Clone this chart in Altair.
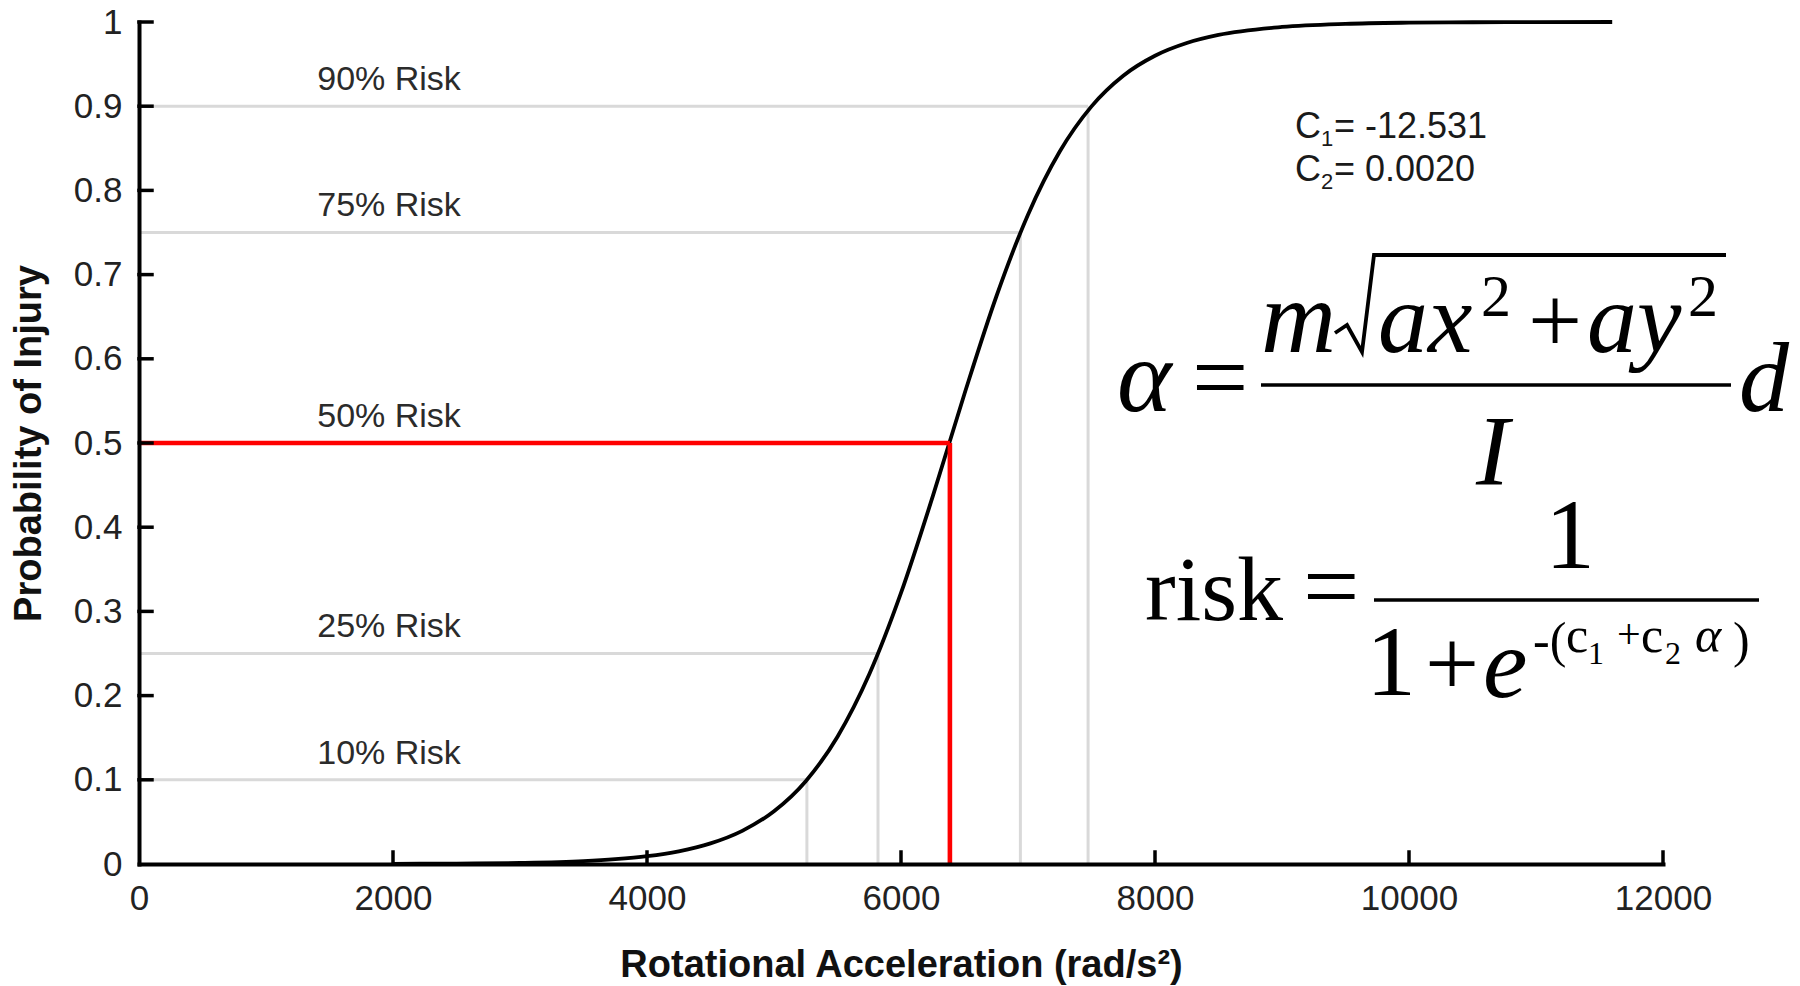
import altair as alt
import pandas as pd

# ---------------- values ----------------
curve_x = [2000, 2500, 3000, 3500, 3750, 4000, 4250, 4500, 4750, 5000,
           5250, 5500, 5750, 6000, 6250, 6500, 6750, 7000, 7250, 7500,
           7750, 8000, 8250, 8500, 9000, 9500, 10000, 10500, 11000, 11600]
curve_y = [0.0002, 0.0005, 0.0013, 0.0035, 0.0058, 0.0093, 0.0151, 0.0245, 0.0394, 0.0627,
           0.0984, 0.1512, 0.2253, 0.3219, 0.4366, 0.5585, 0.6737, 0.7712, 0.8462, 0.8998,
           0.9362, 0.9599, 0.9750, 0.9846, 0.9941, 0.9978, 0.9992, 0.9997, 0.9999, 1.0]

risk_levels = [0.10, 0.25, 0.50, 0.75, 0.90]
risk_x = [5259, 5819, 6385, 6940, 7473]
risk_labels = ["10% Risk", "25% Risk", "50% Risk", "75% Risk", "90% Risk"]

marked_x = [6385]
marked_y = [0.5]

x_tick_values = [0, 2000, 4000, 6000, 8000, 10000, 12000]
y_tick_values = [0, 0.1, 0.2, 0.3, 0.4, 0.5, 0.6, 0.7, 0.8, 0.9, 1.0]

x_title = "Rotational Acceleration (rad/s\u00b2)"
y_title = "Probability of Injury"
c1_value = "= -12.531"
c2_value = "= 0.0020"

# ---------------- layout ----------------
W, H = 1524, 842          # plot area
X0, Y0 = 139, 22          # page pixel of plot's top-left corner
XMAX = 12000


def fx(px):
    return (px - X0) * XMAX / W


def fy(py):
    return (Y0 + H - py) / H


one = pd.DataFrame({"k": [0]})

x_scale = alt.Scale(domain=[0, XMAX], nice=False, zero=False)
y_scale = alt.Scale(domain=[0, 1], nice=False, zero=False)

common_axis = dict(
    domainColor="black", domainWidth=4, domainCap="square",
    ticks=False, tickSize=0, grid=False,
    labelFont="Liberation Sans", labelFontSize=35, labelColor="#222222",
    labelOverlap=False, labelFlush=False,
    titleFont="Liberation Sans", titleFontSize=38, titleFontWeight="bold",
    titleColor="#111111", zindex=1,
)
x_axis = alt.Axis(values=x_tick_values, format="d", title=x_title,
                  labelPadding=17, titleY=112, titleBaseline="alphabetic",
                  **common_axis)
y_axis = alt.Axis(values=y_tick_values, format=".1~f", title=y_title,
                  labelPadding=17, labelBaseline="middle",
                  titleX=-99, titleY=H / 2, titleAngle=270,
                  titleAlign="center", titleBaseline="alphabetic",
                  **common_axis)

# ---------------- gray guide lines (first layer carries the axes) ----------------
guides = pd.DataFrame({"level": risk_levels, "gx": risk_x,
                       "zero": [0] * len(risk_levels)})
guide_h = alt.Chart(guides).mark_rule(color="#d9d9d9", strokeWidth=3).encode(
    x=alt.X("zero:Q", scale=x_scale, axis=x_axis),
    x2="gx:Q",
    y=alt.Y("level:Q", scale=y_scale, axis=y_axis),
)
guide_v = alt.Chart(guides).mark_rule(color="#d9d9d9", strokeWidth=3).encode(
    x="gx:Q", y="zero:Q", y2="level:Q",
)

# ---------------- risk curve ----------------
curve = alt.Chart(pd.DataFrame({"x": curve_x, "y": curve_y})).mark_line(
    color="black", strokeWidth=3.8, interpolate="monotone"
).encode(x="x:Q", y="y:Q")

# ---------------- red marker lines ----------------
mark_df = pd.DataFrame({"mx": marked_x, "my": marked_y, "zero": [0]})
red_h = alt.Chart(mark_df).mark_rule(color="#ff0000", strokeWidth=4.6).encode(
    x="zero:Q", x2="mx:Q", y="my:Q")
red_v = alt.Chart(mark_df).mark_rule(color="#ff0000", strokeWidth=4.6).encode(
    x="mx:Q", y="zero:Q", y2="my:Q")

# ---------------- inward axis ticks ----------------
xt = pd.DataFrame({"t": x_tick_values[1:]})
x_ticks = alt.Chart(xt).mark_rule(color="black", strokeWidth=3.5, strokeCap="square").encode(
    x="t:Q", y=alt.datum(0), y2=alt.datum(12 / H))
yt = pd.DataFrame({"t": y_tick_values[1:]})
y_ticks = alt.Chart(yt).mark_rule(color="black", strokeWidth=3.5, strokeCap="square").encode(
    y="t:Q", x=alt.datum(0), x2=alt.datum(13 * XMAX / W))

# ---------------- risk labels ----------------
risk_df = pd.DataFrame({"label": risk_labels,
                        "ly": [lv + 0.031 for lv in risk_levels],
                        "lx": [1969] * len(risk_labels)})
risk_text = alt.Chart(risk_df).mark_text(
    font="Liberation Sans", fontSize=34, color="#2b2b2b",
    align="center", baseline="middle"
).encode(x="lx:Q", y="ly:Q", text="label:N")


def label(text, px, py, size, font="Liberation Serif", style="normal",
          color="black", align="left"):
    return alt.Chart(one).mark_text(
        text=text, font=font, fontSize=size, fontStyle=style, color=color,
        align=align, baseline="alphabetic"
    ).encode(x=alt.datum(fx(px)), y=alt.datum(fy(py)))


def hbar(px1, px2, py, width=3.5):
    return alt.Chart(one).mark_rule(color="black", strokeWidth=width).encode(
        x=alt.datum(fx(px1)), x2=alt.datum(fx(px2)), y=alt.datum(fy(py)))


texts = []
sans = "Liberation Sans"
texts += [
    label("C", 1295, 138, 36, font=sans, color="#1a1a1a"),
    label("1", 1321, 146, 22, font=sans, color="#1a1a1a"),
    label(c1_value, 1334, 138, 36, font=sans, color="#1a1a1a"),
    label("C", 1295, 181, 36, font=sans, color="#1a1a1a"),
    label("2", 1321, 189, 22, font=sans, color="#1a1a1a"),
    label(c2_value, 1334, 181, 36, font=sans, color="#1a1a1a"),
]
# alpha equation
texts += [
    label("\u03b1", 1117, 411, 104, style="italic"),
    label("=", 1192, 411, 100),
    label("m", 1261, 352, 104, style="italic"),
    label("ax", 1378, 352, 100, style="italic"),
    label("2", 1481, 316, 60),
    label("+", 1528, 352, 96),
    label("ay", 1587, 352, 100, style="italic"),
    label("2", 1688, 316, 60),
    label("d", 1739, 411, 100, style="italic"),
    label("I", 1476, 484, 100, style="italic"),
    hbar(1261, 1731, 385),
]
rad = pd.DataFrame({
    "rx": [fx(v) for v in [1335, 1347, 1362, 1374, 1726]],
    "ry": [fy(v) for v in [333, 325, 352, 255, 255]],
    "o": [0, 1, 2, 3, 4],
})
radical = alt.Chart(rad).mark_line(color="black", strokeWidth=3.8, strokeJoin="miter").encode(
    x="rx:Q", y="ry:Q", order="o:Q")
texts.append(radical)
# risk equation
texts += [
    label("risk", 1145, 620, 92),
    label("=", 1303, 620, 100),
    label("1", 1545, 568, 100),
    hbar(1374, 1759, 600),
    label("1", 1366, 695, 100),
    label("+", 1425, 695, 96),
    label("e", 1483, 697, 100, style="italic"),
    label("-(", 1533, 657, 50),
    label("c", 1566, 652, 50),
    label("1", 1588, 664, 32),
    label("+", 1617, 648, 42),
    label("c", 1641, 652, 50),
    label("2", 1665, 664, 32),
    label("\u03b1", 1695, 652, 50, style="italic"),
    label(")", 1733, 657, 50),
]

chart = alt.layer(
    guide_h, guide_v, curve, red_h, red_v, x_ticks, y_ticks, risk_text, *texts
).properties(
    width=W, height=H,
    autosize=alt.AutoSizeParams(type="none"),
    padding={"left": 131, "top": 14, "right": 129, "bottom": 124},
    background="white",
).configure_view(strokeWidth=0)

chart.save("out.html", embed_options={"renderer": "svg", "actions": False})
